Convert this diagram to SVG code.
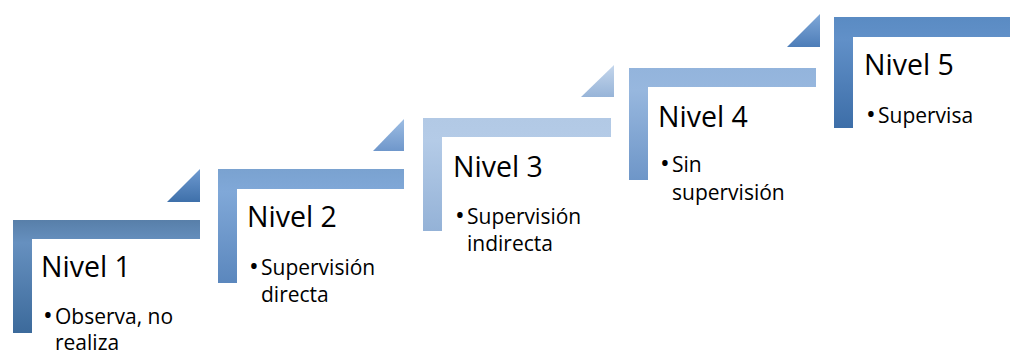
<svg xmlns="http://www.w3.org/2000/svg" width="1010" height="354" viewBox="0 0 1010 354">
<defs>
<style>
.t{font-family:"Open Sans","Liberation Sans",sans-serif;fill:#000}
.h{font-size:28.5px}
.b{font-size:21px}
.d{font-size:26px}
</style>
<linearGradient id="g1" x1="0" y1="0" x2="0" y2="1"><stop offset="0" stop-color="#587fa9"/><stop offset="0.2" stop-color="#6690bf"/><stop offset="1" stop-color="#3c6a9b"/></linearGradient>
<linearGradient id="g2" x1="0" y1="0" x2="0" y2="1"><stop offset="0" stop-color="#7aa2d0"/><stop offset="0.2" stop-color="#80a8d8"/><stop offset="1" stop-color="#5b87bd"/></linearGradient>
<linearGradient id="g3" x1="0" y1="0" x2="0" y2="1"><stop offset="0" stop-color="#b2c9e5"/><stop offset="0.2" stop-color="#b4cbe7"/><stop offset="1" stop-color="#94b2d7"/></linearGradient>
<linearGradient id="g4" x1="0" y1="0" x2="0" y2="1"><stop offset="0" stop-color="#93b4dc"/><stop offset="0.2" stop-color="#97b7de"/><stop offset="1" stop-color="#6e96c8"/></linearGradient>
<linearGradient id="g5" x1="0" y1="0" x2="0" y2="1"><stop offset="0" stop-color="#5a8bc3"/><stop offset="0.2" stop-color="#6190c8"/><stop offset="1" stop-color="#3d6ea8"/></linearGradient>
<linearGradient id="tg1" x1="0" y1="0" x2="0" y2="1"><stop offset="0" stop-color="#6f9ad0"/><stop offset="1" stop-color="#3e70aa"/></linearGradient>
<linearGradient id="tg2" x1="0" y1="0" x2="0" y2="1"><stop offset="0" stop-color="#9dbde3"/><stop offset="1" stop-color="#6f97cb"/></linearGradient>
<linearGradient id="tg3" x1="0" y1="0" x2="0" y2="1"><stop offset="0" stop-color="#c4d6ec"/><stop offset="1" stop-color="#97b4d8"/></linearGradient>
<linearGradient id="tg4" x1="0" y1="0" x2="0" y2="1"><stop offset="0" stop-color="#80a8d8"/><stop offset="1" stop-color="#4d7db8"/></linearGradient>
</defs>
<g id="connectors">
<polygon points="167,202 200,169 200,202" fill="url(#tg1)"/>
<polygon points="373,151 404,119 404,151" fill="url(#tg2)"/>
<polygon points="581,97 614,65 614,97" fill="url(#tg3)"/>
<polygon points="787,47 820,14 820,47" fill="url(#tg4)"/>
</g>
<g id="step1">
<path d="M13,220 H200 V239 H32 V333 H13 Z" fill="url(#g1)"/>
<text class="t h" x="41" y="277">Nivel 1</text>
<text class="t b" x="43" y="324"><tspan class="d">•</tspan><tspan x="55">Observa, no</tspan></text>
<text class="t b" x="55" y="350">realiza</text>
</g>
<g id="step2">
<path d="M218,169 H404 V189 H237 V283 H218 Z" fill="url(#g2)"/>
<text class="t h" x="247" y="227">Nivel 2</text>
<text class="t b" x="249" y="275"><tspan class="d">•</tspan><tspan x="261">Supervisión</tspan></text>
<text class="t b" x="261" y="302">directa</text>
</g>
<g id="step3">
<path d="M423,118 H611 V137 H442 V231 H423 Z" fill="url(#g3)"/>
<text class="t h" x="453" y="177">Nivel 3</text>
<text class="t b" x="455" y="224"><tspan class="d">•</tspan><tspan x="467">Supervisión</tspan></text>
<text class="t b" x="467" y="251">indirecta</text>
</g>
<g id="step4">
<path d="M629,68 H816 V87 H648 V180 H629 Z" fill="url(#g4)"/>
<text class="t h" x="658" y="127">Nivel 4</text>
<text class="t b" x="660" y="172"><tspan class="d">•</tspan><tspan x="672">Sin</tspan></text>
<text class="t b" x="672" y="200">supervisión</text>
</g>
<g id="step5">
<path d="M834,17 H1010 V37 H853 V128 H834 Z" fill="url(#g5)"/>
<text class="t h" x="864" y="75">Nivel 5</text>
<text class="t b" x="866" y="123"><tspan class="d">•</tspan><tspan x="878">Supervisa</tspan></text>
</g>
</svg>
